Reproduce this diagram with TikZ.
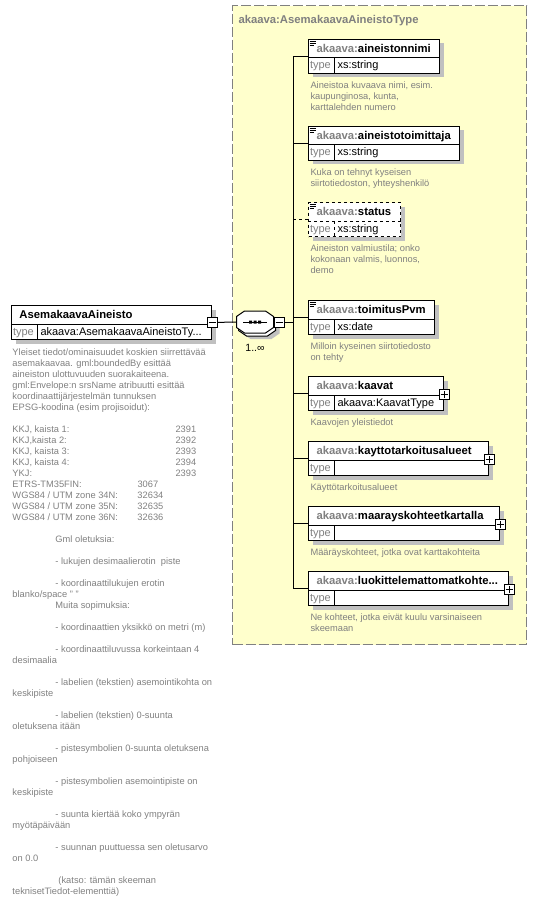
\documentclass[tikz,border=0pt]{standalone}
\usepackage{fontspec}
\setmainfont{Liberation Sans}
\usepackage{tikz}
\usetikzlibrary{positioning}
\usetikzlibrary{shadows}
\usepackage{xcolor}
\definecolor{xsdyellow}{HTML}{FFFFCC}
\definecolor{xsdgray}{HTML}{808080}
\definecolor{xsdshadow}{HTML}{C0C0C0}

\newcommand{\ak}{\textcolor{xsdgray}{akaava:}}
% element box: [style]{name}{x}{y}{width}{label}{type}
\newcommand{\elembox}[7][]{%
  \node[elbox, minimum width=#5, #1] (#2) at (#3,#4) {};
  \draw[#1] ([yshift=-19pt]#2.north west) -- ([yshift=-19pt]#2.north east)
            ([xshift=26pt,yshift=-19pt]#2.north west) -- ([xshift=26pt]#2.south west);
  \node[headtxt] (#2-name) at ([xshift=8pt,yshift=-13.7pt]#2.north west) {#6};
  \node[typetxt] (#2-type) at ([xshift=1.5pt,yshift=-30pt]#2.north west) {type};
  \node[valtxt] (#2-val) at ([xshift=29pt,yshift=-30pt]#2.north west) {#7};
}
\newcommand{\simpleicon}[1]{%
  \draw[line width=0.7pt] ([xshift=1.5pt,yshift=-2pt]#1.north west) -- ++(6pt,0)
     ++(-6pt,-2pt) -- ++(6pt,0) ++(-6pt,-2pt) -- ++(4pt,0);
}
% octagon round a sequence node
\newcommand{\seqoct}[2][]{%
  \draw[#1] ([xshift=8pt]#2.north west) -- ([xshift=-8pt]#2.north east)
    -- ([yshift=-5.5pt]#2.north east) -- ([yshift=5.5pt]#2.south east)
    -- ([xshift=-8pt]#2.south east) -- ([xshift=8pt]#2.south west)
    -- ([yshift=5.5pt]#2.south west) -- ([yshift=-5.5pt]#2.north west) -- cycle;
}

\begin{document}
\begin{tikzpicture}[x=1pt, y=1pt, line width=1pt,
    elbox/.style={draw, fill=white, anchor=north west, minimum height=34pt, inner sep=0pt,
      drop shadow={shadow xshift=4pt, shadow yshift=-4pt, fill=xsdshadow, opacity=1}},
    headtxt/.style={anchor=base west, inner sep=0pt, font=\fontsize{11.3}{13}\selectfont\bfseries},
    typetxt/.style={anchor=base west, inner sep=0pt, text=xsdgray, font=\fontsize{11}{13}\selectfont},
    valtxt/.style={anchor=base west, inner sep=0pt, font=\fontsize{11}{13}\selectfont},
    desc/.style={inner sep=0pt, align=left, text=xsdgray, font=\fontsize{9.3}{11}\selectfont},
    minusbox/.style={draw, fill=white, minimum size=10pt, inner sep=0pt,
      path picture={\draw ([xshift=-3.5pt]path picture bounding box.center)
        -- ([xshift=3.5pt]path picture bounding box.center);}},
    plusbox/.style={draw, fill=white, minimum size=10pt, inner sep=0pt,
      path picture={\draw ([xshift=-3.5pt]path picture bounding box.center)
        -- ([xshift=3.5pt]path picture bounding box.center)
        ([yshift=-3.5pt]path picture bounding box.center)
        -- ([yshift=3.5pt]path picture bounding box.center);}},
    seqarea/.style={minimum width=36pt, minimum height=21pt, inner sep=0pt},
    typeframe/.style={draw=xsdgray, line width=1.3pt, dash pattern=on 10pt off 3pt, fill=xsdyellow,
      anchor=north west, inner sep=0pt}
  ]
  \useasboundingbox (0,0) rectangle (537,-912);

  % complex type frame
  \node[typeframe, minimum width=294pt, minimum height=639pt] (frame) at (232,-5) {};
  \node[anchor=base west, inner sep=0pt, text=xsdgray, font=\fontsize{11.3}{13}\selectfont\bfseries]
    (frame-title) at (238,-23.3) {akaava:AsemakaavaAineistoType};

  % root element
  \elembox{base}{11}{-305}{200pt}{AsemakaavaAineisto}{akaava:AsemakaavaAineistoTy...}
  \node[minusbox] (base-minus) at (base.east) {};
  \node[desc, below=8.5pt of base.south west, anchor=north west, xshift=1pt] (base-doc) {%
    Yleiset tiedot/ominaisuudet koskien siirrettävää\\
    asemakaavaa. gml:boundedBy esittää\\
    aineiston ulottuvuuden suorakaiteena.\\
    gml:Envelope:n srsName atribuutti esittää\\
    koordinaattijärjestelmän tunnuksen\\
    EPSG-koodina (esim projisoidut):\\[11pt]
    \makebox[163pt][l]{KKJ, kaista 1:}2391\\
    \makebox[163pt][l]{KKJ,kaista 2:}2392\\
    \makebox[163pt][l]{KKJ, kaista 3:}2393\\
    \makebox[163pt][l]{KKJ, kaista 4:}2394\\
    \makebox[163pt][l]{YKJ:}2393\\
    \makebox[125pt][l]{ETRS-TM35FIN:}3067\\
    \makebox[125pt][l]{WGS84 / UTM zone 34N:}32634\\
    \makebox[125pt][l]{WGS84 / UTM zone 35N:}32635\\
    \makebox[125pt][l]{WGS84 / UTM zone 36N:}32636\\[11pt]
    \hspace*{43pt}Gml oletuksia:\\[11pt]
    \hspace*{43pt}- lukujen desimaalierotin\ \ piste\\[11pt]
    \hspace*{43pt}- koordinaattilukujen erotin\\
    blanko/space " "\\
    \hspace*{43pt}Muita sopimuksia:\\[11pt]
    \hspace*{43pt}- koordinaattien yksikkö on metri (m)\\[11pt]
    \hspace*{43pt}- koordinaattiluvussa korkeintaan 4\\
    desimaalia\\[11pt]
    \hspace*{43pt}- labelien (tekstien) asemointikohta on\\
    keskipiste\\[11pt]
    \hspace*{43pt}- labelien (tekstien) 0-suunta\\
    oletuksena itään\\[11pt]
    \hspace*{43pt}- pistesymbolien 0-suunta oletuksena\\
    pohjoiseen\\[11pt]
    \hspace*{43pt}- pistesymbolien asemointipiste on\\
    keskipiste\\[11pt]
    \hspace*{43pt}- suunta kiertää koko ympyrän\\
    myötäpäivään\\[11pt]
    \hspace*{43pt}- suunnan puuttuessa sen oletusarvo\\
    on 0.0\\[11pt]
    \hspace*{46pt}(katso: tämän skeeman\\
    teknisetTiedot-elementtiä)};

  % sequence, 1..unbounded
  \node[seqarea] (seq-shadow) at (261,-328) {};
  \node[seqarea] (seq-back) at (257,-325) {};
  \node[seqarea] (seq) at (255,-322) {};
  \seqoct[fill=xsdshadow, draw=none]{seq-shadow}
  \seqoct[fill=white]{seq-back}
  \seqoct[fill=white]{seq}
  \draw ([xshift=-12pt]seq.center) -- ([xshift=12pt]seq.center);
  \fill ([xshift=-4.5pt]seq.center) +(-1.5pt,-1.5pt) rectangle +(1.5pt,1.5pt)
        (seq.center) +(-1.5pt,-1.5pt) rectangle +(1.5pt,1.5pt)
        ([xshift=4.5pt]seq.center) +(-1.5pt,-1.5pt) rectangle +(1.5pt,1.5pt);
  \node[minusbox, anchor=west] (seq-minus) at (seq.east) {};
  \node[below=11pt of seq, inner sep=0pt, font=\fontsize{10.5}{12}\selectfont] (seq-occ) {1..∞};

  % child elements
  \elembox{nimi}{308}{-39}{131pt}{\ak aineistonnimi}{xs:string}
  \simpleicon{nimi}
  \node[desc, below=7.5pt of nimi.south west, anchor=north west, xshift=2pt] (nimi-doc)
    {Aineistoa kuvaava nimi, esim.\\kaupunginosa, kunta,\\karttalehden numero};

  \elembox{toim}{308}{-126}{151pt}{\ak aineistotoimittaja}{xs:string}
  \simpleicon{toim}
  \node[desc, below=7.5pt of toim.south west, anchor=north west, xshift=2pt] (toim-doc)
    {Kuka on tehnyt kyseisen\\siirtotiedoston, yhteyshenkilö};

  \elembox[dashed]{status}{308}{-202}{92pt}{\ak status}{xs:string}
  \simpleicon{status}
  \node[desc, below=7.5pt of status.south west, anchor=north west, xshift=2pt] (status-doc)
    {Aineiston valmiustila; onko\\kokonaan valmis, luonnos,\\demo};

  \elembox{pvm}{308}{-300}{126pt}{\ak toimitusPvm}{xs:date}
  \simpleicon{pvm}
  \node[desc, below=7.5pt of pvm.south west, anchor=north west, xshift=2pt] (pvm-doc)
    {Milloin kyseinen siirtotiedosto\\on tehty};

  \elembox{kaavat}{308}{-376}{135pt}{\ak kaavat}{akaava:KaavatType}
  \node[plusbox] (kaavat-plus) at ([yshift=-1pt]kaavat.east) {};
  \node[desc, below=7.5pt of kaavat.south west, anchor=north west, xshift=2pt] (kaavat-doc)
    {Kaavojen yleistiedot};

  \elembox{kaytto}{308}{-441}{180pt}{\ak kayttotarkoitusalueet}{}
  \node[plusbox] (kaytto-plus) at ([yshift=-1pt]kaytto.east) {};
  \node[desc, below=7.5pt of kaytto.south west, anchor=north west, xshift=2pt] (kaytto-doc)
    {Käyttötarkoitusalueet};

  \elembox{maar}{308}{-506}{191pt}{\ak maarayskohteetkartalla}{}
  \node[plusbox] (maar-plus) at ([yshift=-1pt]maar.east) {};
  \node[desc, below=7.5pt of maar.south west, anchor=north west, xshift=2pt] (maar-doc)
    {Määräyskohteet, jotka ovat karttakohteita};

  \elembox{luok}{308}{-571}{200pt}{\ak luokittelemattomatkohte...}{}
  \node[plusbox] (luok-plus) at ([yshift=-1pt]luok.east) {};
  \node[desc, below=7.5pt of luok.south west, anchor=north west, xshift=2pt] (luok-doc)
    {Ne kohteet, jotka eivät kuulu varsinaiseen\\skeemaan};

  % connectors
  \coordinate (bus) at (293,0);
  \draw (base-minus) -- (seq.west);
  \draw (seq-minus.east) -- (bus |- seq-minus.east);
  \draw (bus |- nimi.west) -- (bus |- luok.west);
  \draw (bus |- nimi.west) -- (nimi.west);
  \draw (bus |- toim.west) -- (toim.west);
  \draw[dashed] (bus |- status.west) -- (status.west);
  \draw (bus |- pvm.west) -- (pvm.west);
  \draw (bus |- kaavat.west) -- (kaavat.west);
  \draw (bus |- kaytto.west) -- (kaytto.west);
  \draw (bus |- maar.west) -- (maar.west);
  \draw (bus |- luok.west) -- (luok.west);
\end{tikzpicture}
\end{document}
